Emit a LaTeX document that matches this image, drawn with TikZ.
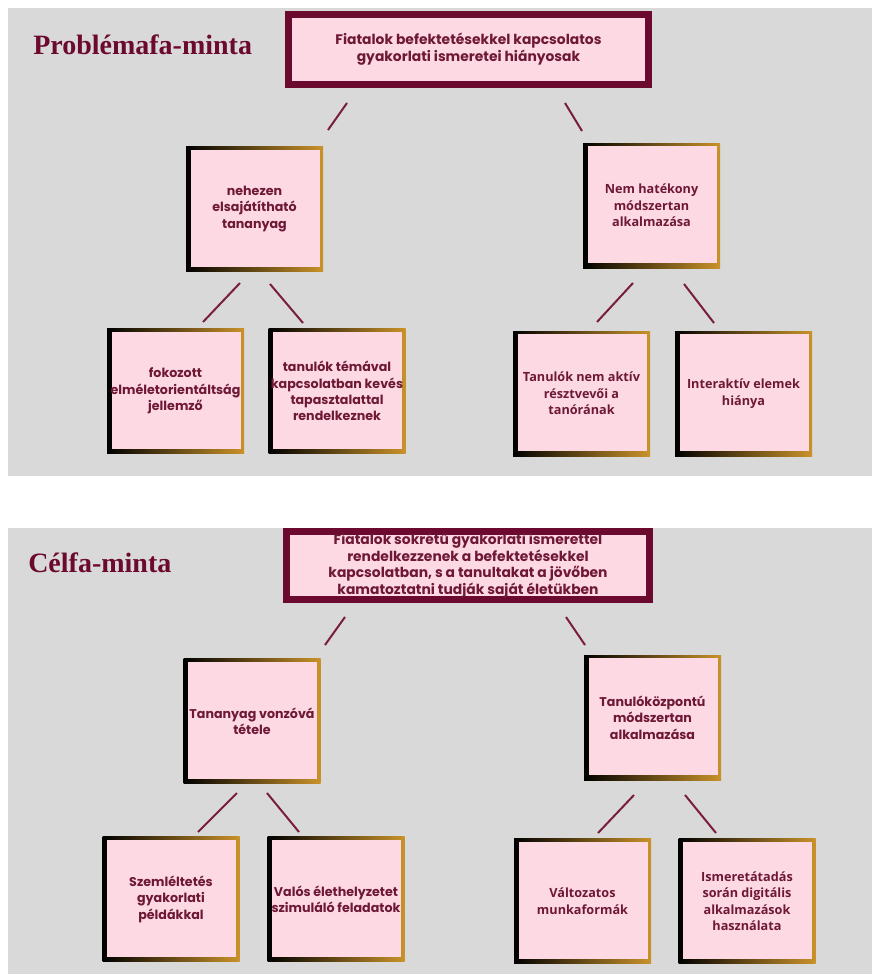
\documentclass[tikz,border=0pt]{standalone}
\usepackage{fontspec}
\setmainfont{Liberation Serif}
\newfontfamily\poppins{Poppins}
\newfontfamily\opensans{Open Sans}
\usetikzlibrary{positioning}
\definecolor{panelgray}{HTML}{D9D9D9}
\definecolor{boxpink}{HTML}{FDD9E4}
\definecolor{wine}{HTML}{6B0A2E}
\definecolor{wineline}{HTML}{7A1E3E}
\definecolor{boxtext}{HTML}{6E1836}
\definecolor{gold}{HTML}{C9922A}

\begin{document}
\begin{tikzpicture}[x=0.75pt,y=-0.75pt,
    treetitle/.style={anchor=base west, inner sep=0, text=wine, font=\fontsize{21}{25}\selectfont\bfseries},
    rootbox/.style={rectangle, draw=wine, line width=5.25pt, fill=boxpink, inner sep=0, align=center, text=boxtext},
    leafbox/.style={rectangle, minimum width=102.75pt, minimum height=93.75pt, inner sep=0, align=center, text=boxtext,
        left color=black, right color=gold,
        path picture={\fill[boxpink] ([xshift=3.4pt,yshift=3.4pt]path picture bounding box.south west) rectangle ([xshift=-2.4pt,yshift=-2.4pt]path picture bounding box.north east);}},
    pfont/.style={font=\poppins\bfseries\fontsize{9.5}{12.3}\selectfont},
    ofont/.style={font=\opensans\bfseries\fontsize{9.5}{12.3}\selectfont},
    rfont/.style={font=\poppins\bfseries\fontsize{10.4}{12.6}\selectfont},
    link/.style={draw=wineline, line width=1.5pt}
]
    \fill[white] (0,0) rectangle (872,974);
    \useasboundingbox (0,0) rectangle (872,974);

    % Panels
    \fill[panelgray] (8,8) rectangle (872,476);
    \fill[panelgray] (8,528) rectangle (872,974);

    % Problem tree
    \node[treetitle] (ptitle) at (33,55) {Problémafa-minta};
    \node[rootbox, rfont, minimum width=270pt, minimum height=52.5pt] (proot) at (468.5,49.5)
        {Fiatalok befektetésekkel kapcsolatos\\gyakorlati ismeretei hiányosak};

    \node[leafbox, pfont] (pleft) at (254.5,209) {nehezen\\elsajátítható\\tananyag};
    \node[leafbox, ofont] (pright) at (651.5,205.5) {Nem hatékony\\módszertan\\alkalmazása};

    \node[leafbox, pfont] (pll) at (175.5,391) {fokozott\\elméletorientáltság\\jellemző};
    \node[leafbox, pfont] (plr) at (337,391) {tanulók témával\\kapcsolatban kevés\\tapasztalattal\\rendelkeznek};
    \node[leafbox, ofont] (prl) at (581.5,393.5) {Tanulók nem aktív\\résztvevői a\\tanórának};
    \node[leafbox, ofont] (prr) at (743.5,393.5) {Interaktív elemek\\hiánya};

    \coordinate (pa1) at (347,103); \coordinate (pa2) at (328,130);
    \coordinate (pb1) at (565,103); \coordinate (pb2) at (582,131);
    \coordinate (pc1) at (240,283); \coordinate (pc2) at (203,322);
    \coordinate (pd1) at (270,284); \coordinate (pd2) at (303,323);
    \coordinate (pe1) at (633,283); \coordinate (pe2) at (597,322);
    \coordinate (pf1) at (684,284); \coordinate (pf2) at (714,323);
    \draw[link] (pa1) -- (pa2);
    \draw[link] (pb1) -- (pb2);
    \draw[link] (pc1) -- (pc2);
    \draw[link] (pd1) -- (pd2);
    \draw[link] (pe1) -- (pe2);
    \draw[link] (pf1) -- (pf2);

    % Goal tree
    \node[treetitle] (ctitle) at (28,572) {Célfa-minta};
    \node[rootbox, rfont, minimum width=272.25pt, minimum height=51pt] (croot) at (468,565.5)
        {Fiatalok sokrétű gyakorlati ismerettel\\rendelkezzenek a befektetésekkel\\kapcsolatban, s a tanultakat a jövőben\\kamatoztatni tudják saját életükben};

    \node[leafbox, pfont] (cleft) at (252,721) {Tananyag vonzóvá\\tétele};
    \node[leafbox, pfont] (cright) at (652.5,717.5) {Tanulóközpontú\\módszertan\\alkalmazása};

    \node[leafbox, pfont] (cll) at (171,899) {Szemléltetés\\gyakorlati\\példákkal};
    \node[leafbox, pfont] (clr) at (336,899) {Valós élethelyzetet\\szimuláló feladatok};
    \node[leafbox, ofont] (crl) at (582.5,901) {Változatos\\munkaformák};
    \node[leafbox, ofont] (crr) at (747,901) {Ismeretátadás\\során digitális\\alkalmazások\\használata};

    \coordinate (ca1) at (345,617); \coordinate (ca2) at (325,645);
    \coordinate (cb1) at (566,617); \coordinate (cb2) at (585,645);
    \coordinate (cc1) at (237,793); \coordinate (cc2) at (198,832);
    \coordinate (cd1) at (267,793); \coordinate (cd2) at (299,832);
    \coordinate (ce1) at (634,795); \coordinate (ce2) at (598,833);
    \coordinate (cf1) at (685,795); \coordinate (cf2) at (716,833);
    \draw[link] (ca1) -- (ca2);
    \draw[link] (cb1) -- (cb2);
    \draw[link] (cc1) -- (cc2);
    \draw[link] (cd1) -- (cd2);
    \draw[link] (ce1) -- (ce2);
    \draw[link] (cf1) -- (cf2);
\end{tikzpicture}
\end{document}
